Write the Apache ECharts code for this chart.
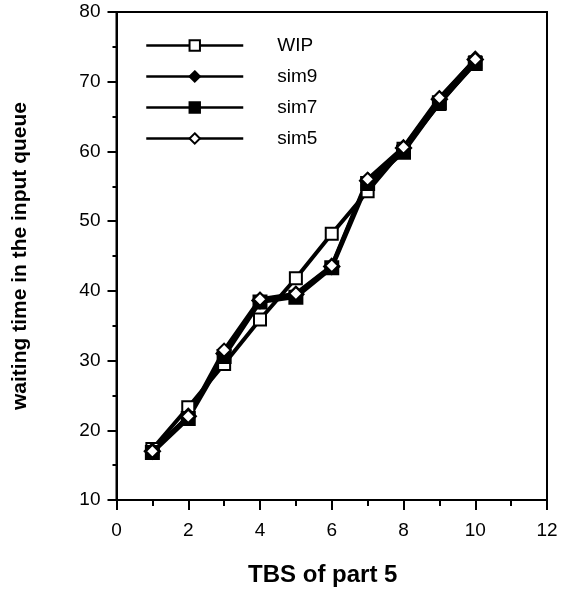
<!DOCTYPE html>
<html><head><meta charset="utf-8">
<script src="https://cdn.jsdelivr.net/npm/echarts@6/dist/echarts.min.js"></script>
<style>html,body{margin:0;padding:0;background:#fff}#c{width:565px;height:594px}</style>
</head><body><div id="c"></div>
<script>
const xValues = [1, 2, 3, 4, 5, 6, 7, 8, 9, 10];
const wip  = [17.3, 23.3, 29.5, 35.9, 41.8, 48.2, 54.3, 60.4, 66.8, 72.8];
const sim9 = [17.0, 22.0, 31.0, 38.6, 39.5, 43.5, 55.8, 60.5, 67.5, 73.2];
const sim7 = [16.8, 21.7, 30.6, 38.4, 39.1, 43.3, 55.4, 59.9, 67.0, 72.6];
const sim5 = [17.0, 22.0, 31.5, 38.8, 39.6, 43.6, 56.0, 60.6, 67.7, 73.2];
const seriesNames = ['WIP', 'sim9', 'sim7', 'sim5'];
const xTitle = 'TBS of part 5';
const yTitle = 'waiting time in the input queue';

const pair = arr => xValues.map((x, i) => [x, arr[i]]);
const font = 'Liberation Sans, Arial, Helvetica, sans-serif';

const chart = echarts.init(document.getElementById('c'), null, {renderer: 'canvas'});
const mk = (name, data, symbol, size) => ({
  name, type: 'line', data: pair(data), symbol, symbolSize: size,
  lineStyle: {color: '#000', width: 4},
  itemStyle: {color: '#000', borderColor: '#000', borderWidth: 3},
  emphasis: {disabled: true}, animation: false
});
chart.setOption({
  backgroundColor: '#fff',
  animation: false,
  grid: {left: 116.5, right: 18, top: 12, bottom: 94, show: true, borderColor: '#000', borderWidth: 2, backgroundColor: 'transparent'},
  legend: {
    data: seriesNames, orient: 'vertical', left: 145, top: 36, padding: 0,
    itemWidth: 97, itemHeight: 13, itemGap: 12,
    textStyle: {fontFamily: font, fontSize: 19, color: '#000', padding: [0, 0, 0, 29]},
    lineStyle: {width: 2.5}
  },
  xAxis: {
    type: 'value', min: 0, max: 12, interval: 2,
    name: xTitle, nameLocation: 'middle', nameGap: 63,
    nameTextStyle: {fontFamily: font, fontSize: 24, fontWeight: 'bold', color: '#000', padding: [0, 18, 0, 0]},
    axisLine: {lineStyle: {color: '#000', width: 2}},
    axisTick: {inside: false, length: 10, lineStyle: {color: '#000', width: 2}},
    minorTick: {show: true, splitNumber: 2, length: 6, lineStyle: {color: '#000', width: 2}},
    axisLabel: {fontFamily: font, fontSize: 19, color: '#000', margin: 21},
    splitLine: {show: false}
  },
  yAxis: {
    type: 'value', min: 10, max: 80, interval: 10,
    name: yTitle, nameLocation: 'middle', nameGap: 86,
    nameTextStyle: {fontFamily: font, fontSize: 21, fontWeight: 'bold', color: '#000'},
    axisLine: {lineStyle: {color: '#000', width: 2}},
    axisTick: {inside: false, length: 9, lineStyle: {color: '#000', width: 2}},
    minorTick: {show: true, splitNumber: 2, length: 4, lineStyle: {color: '#000', width: 2}},
    axisLabel: {fontFamily: font, fontSize: 19, color: '#000', margin: 16},
    splitLine: {show: false}
  },
  series: [
    mk('WIP', wip, 'emptyRect', 12),
    mk('sim9', sim9, 'diamond', 14),
    mk('sim7', sim7, 'rect', 12),
    mk('sim5', sim5, 'emptyDiamond', 13)
  ]
});
</script></body></html>
